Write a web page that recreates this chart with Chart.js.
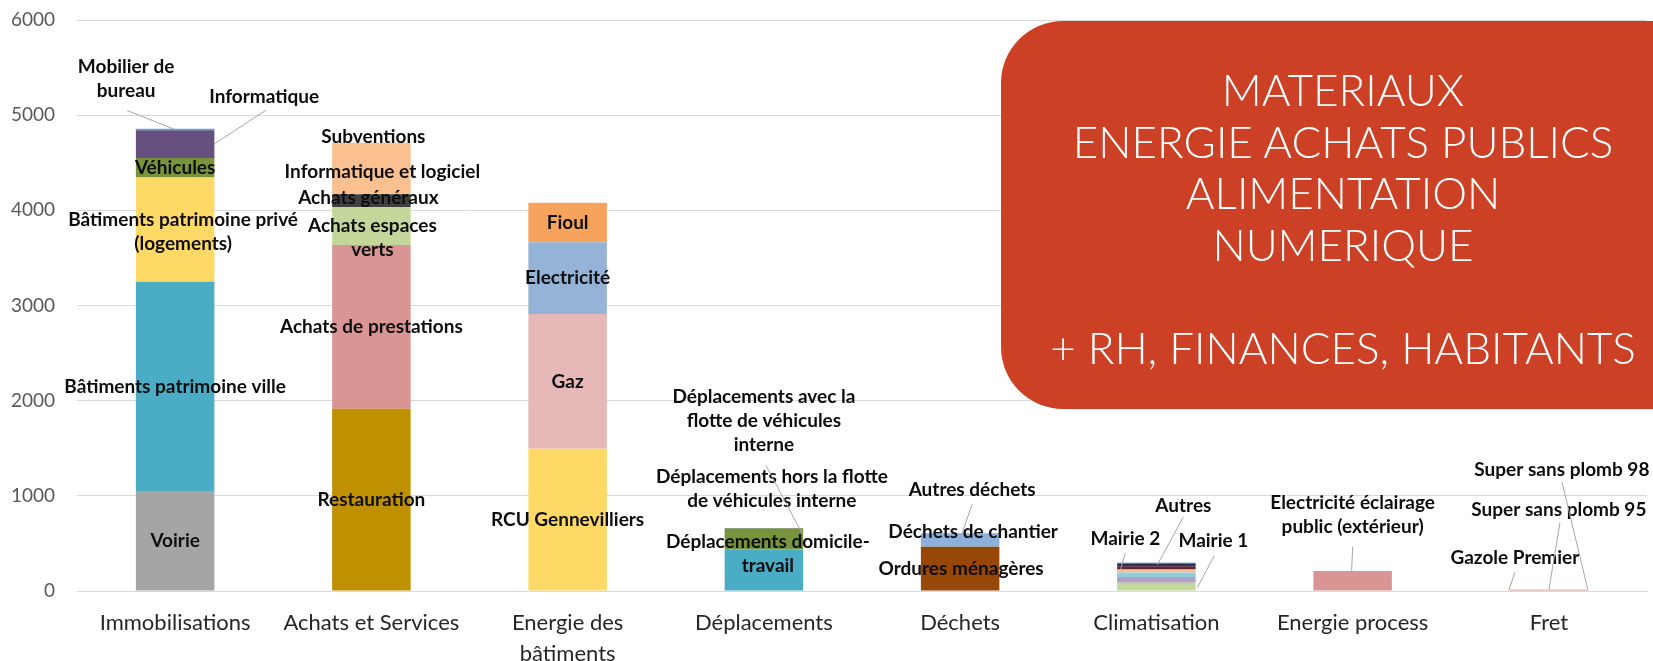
<!DOCTYPE html>
<html lang="fr">
<head>
<meta charset="utf-8">
<title>Emissions par poste</title>
<script src="https://cdn.jsdelivr.net/npm/chart.js@4.4.1/dist/chart.umd.min.js"></script>
<style>
    body { margin: 0; background: #fff; }
    #cadre { position: relative; width: 1653px; height: 661px; overflow: hidden; }
    #bulle {
        position: absolute; left: 1001px; top: 21px; width: 720px; height: 388px;
        background: #cc4125; border-radius: 62px;
    }
    #bulleTexte {
        position: absolute; left: 1001px; top: 64px; width: 684px;
        text-align: center; color: #fff; font-family: Lato, sans-serif; font-weight: 300;
        font-size: 44px; line-height: 51.5px; white-space: nowrap;
    }
</style>
</head>
<body>
<div id="cadre">
    <canvas id="graphique" width="1653" height="661"></canvas>
    <div id="bulle"></div>
    <div id="bulleTexte">MATERIAUX<br>ENERGIE ACHATS PUBLICS<br>ALIMENTATION<br>NUMERIQUE<br><br>+ RH, FINANCES, HABITANTS</div>
</div>
<script>
const categories = [['Immobilisations'], ['Achats et Services'], ['Energie des', 'bâtiments'], ['Déplacements'], ['Déchets'], ['Climatisation'], ['Energie process'], ['Fret']];
const graduations = [0, 1000, 2000, 3000, 4000, 5000, 6000];

const immobilisationsPostes = ['Voirie', 'Bâtiments patrimoine ville', 'Bâtiments patrimoine privé\n(logements)', 'Véhicules', 'Informatique', 'Mobilier de\nbureau'];
const immobilisationsValeurs = [1050, 2200, 1095, 205, 292, 14];

const achatsPostes = ['Restauration', 'Achats de prestations', 'Achats espaces\nverts', 'Achats généraux', 'Informatique et logiciel', 'Subventions'];
const achatsValeurs = [1915, 1720, 400, 135, 465, 75];

const energiePostes = ['RCU Gennevilliers', 'Gaz', 'Electricité', 'Fioul'];
const energieValeurs = [1495, 1415, 755, 415];

const deplacementsPostes = ['Déplacements domicile-\ntravail', 'Déplacements hors la flotte\nde véhicules interne', 'Déplacements avec la\nflotte de véhicules\ninterne'];
const deplacementsValeurs = [436, 222, 5];

const dechetsPostes = ['Ordures ménagères', 'Déchets de chantier', 'Autres déchets'];
const dechetsValeurs = [465, 140, 5];

const climatisationPostes = ['Mairie 1', '', '', '', 'Mairie 2', 'Autres', ''];
const climatisationValeurs = [88, 60, 46, 32, 35, 28, 7];

const processPostes = ['Electricité éclairage\npublic (extérieur)'];
const processValeurs = [210];

const fretPostes = ['Gazole Premier', 'Super sans plomb 95', 'Super sans plomb 98'];
const fretValeurs = [10, 3, 2];

// couleurs des segments, dans le meme ordre que les postes
const couleurs = [
    ['#a5a5a5', '#4bacc6', '#ffd966', '#77933c', '#65507f', '#4bacc6'],
    ['#bf9000', '#d99594', '#c4d79b', '#404040', '#fac090', '#fac090'],
    ['#ffd966', '#e6b9b8', '#95b3d7', '#f8a35c'],
    ['#4bacc6', '#77933c', '#65507f'],
    ['#974806', '#8eb0dc', '#a5a5a5'],
    ['#c4d79b', '#b1a0c7', '#92cddc', '#fac090', '#5c2636', '#2e2f52', '#31859c'],
    ['#d99594'],
    ['#d99594', '#e6b9b8', '#d99594']
];

// decalage des etiquettes par rapport au centre du segment, et traits de rappel
// trait: [depuis x, y relatif a l'etiquette, vers x, y relatif au centre du segment]
const placements = [
    [null, null, { dx: 8, dy: 2 }, null,
     { dx: 89, dy: -47, trait: [2, 13, 39, 0] },
     { dx: -49, dy: -51, trait: [1, 32, 0, 0] }],
    [null, null, { dx: 1, dy: 12 }, { dx: -3, dy: -3 }, { dx: 11, dy: 0 }, { dx: 2, dy: -9 }],
    [null, null, null, null],
    [{ dx: 4, dy: -16 }, { dx: 8, dy: -50 }, { dx: 0, dy: -107, trait: [2, 44, 38, 5] }],
    [{ dx: 1, dy: 0 }, { dx: 13, dy: -8 }, { dx: 12, dy: -43, trait: [0, 14, 2, 0] }],
    [{ dx: 57, dy: -46, trait: [1, 15, 41, 1] }, null, null, null,
     { dx: -31, dy: -29, trait: [0, 14, -36, 2] },
     { dx: 27, dy: -59, trait: [0, 11, 1, 0] }, null],
    [{ dx: 0, dy: -66, trait: [0, 32, -1, -10] }],
    [{ dx: -34, dy: -32, trait: [0, 14, -40, 0] },
     { dx: 10, dy: -80, trait: [1, 13, 0, 0] },
     { dx: 13, dy: -120, trait: [0, 12, 39, 0] }]
];

const postes = [immobilisationsPostes, achatsPostes, energiePostes, deplacementsPostes, dechetsPostes, climatisationPostes, processPostes, fretPostes];
const valeurs = [immobilisationsValeurs, achatsValeurs, energieValeurs, deplacementsValeurs, dechetsValeurs, climatisationValeurs, processValeurs, fretValeurs];

const datasets = [];
postes.forEach((liste, i) => {
    liste.forEach((nom, j) => {
        const data = categories.map(() => null);
        data[i] = valeurs[i][j];
        datasets.push({
            label: nom.replace(/\n/g, ' '),
            data: data,
            backgroundColor: couleurs[i][j],
            borderWidth: 0,
            texte: nom,
            cat: i,
            place: placements[i][j] || { dx: 0, dy: 0 }
        });
    });
});

const etiquettes = {
    id: 'etiquettes',
    afterDatasetsDraw(chart) {
        const ctx = chart.ctx;
        ctx.save();
        ctx.font = 'bold 19px Lato';
        ctx.textAlign = 'center';
        ctx.textBaseline = 'middle';
        chart.data.datasets.forEach((ds, k) => {
            if (!ds.texte) return;
            const el = chart.getDatasetMeta(k).data[ds.cat];
            const cx = el.x;
            const cy = (el.y + el.base) / 2;
            const lx = cx + ds.place.dx;
            const ly = cy + ds.place.dy;
            if (ds.place.trait) {
                const t = ds.place.trait;
                ctx.strokeStyle = '#a6a6a6';
                ctx.lineWidth = 1;
                ctx.beginPath();
                ctx.moveTo(lx + t[0], ly + t[1]);
                ctx.lineTo(cx + t[2], cy + t[3]);
                ctx.stroke();
            }
            const lignes = ds.texte.split('\n');
            ctx.fillStyle = '#0d0d0d';
            lignes.forEach((l, n) => {
                ctx.fillText(l, lx, ly + (n - (lignes.length - 1) / 2) * 24);
            });
        });
        ctx.restore();
    }
};

new Chart(document.getElementById('graphique'), {
    type: 'bar',
    data: { labels: categories, datasets: datasets },
    options: {
        responsive: false,
        animation: false,
        layout: { padding: { top: 20, right: 6, left: 0, bottom: 0 } },
        datasets: { bar: { barPercentage: 0.4, categoryPercentage: 1 } },
        plugins: { legend: { display: false }, tooltip: { enabled: false } },
        scales: {
            x: {
                stacked: true,
                grid: { display: false },
                border: { display: true, color: '#d9d9d9', width: 1 },
                ticks: { color: '#262626', padding: 9, font: { family: 'Lato', size: 22, lineHeight: 1.4 }, maxRotation: 0, autoSkip: false },
                afterFit(scale) { scale.height = 70; }
            },
            y: {
                stacked: true,
                min: 0,
                max: 6000,
                afterBuildTicks(scale) { scale.ticks = graduations.map(v => ({ value: v })); },
                grid: { color: '#d9d9d9', lineWidth: 1, drawTicks: false },
                border: { display: false },
                ticks: { color: '#595959', padding: 22, font: { family: 'Lato', size: 19 }, callback: v => String(v) },
                afterFit(scale) { scale.width = 77; scale.paddingTop = 0; scale.paddingBottom = 0; }
            }
        }
    },
    plugins: [etiquettes]
});
</script>
</body>
</html>
